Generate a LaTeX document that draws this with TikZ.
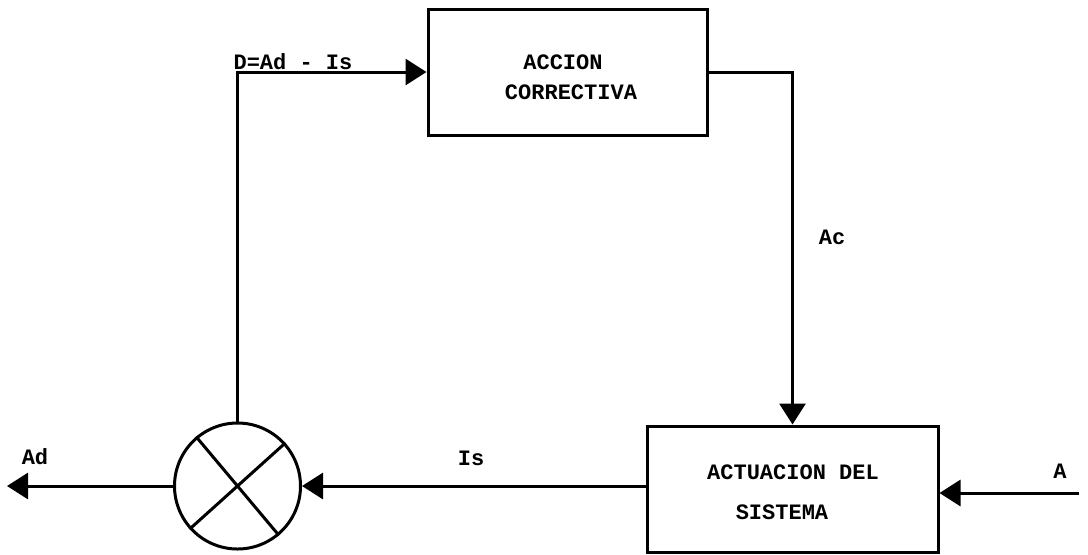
\documentclass[tikz,border=0pt]{standalone}
\usepackage{fontspec}
\setmonofont{Liberation Mono}
\usetikzlibrary{arrows.meta}
\begin{document}
\begin{tikzpicture}[x=0.5pt,y=-0.5pt,line width=1.5pt,
  font=\ttfamily\bfseries\fontsize{11}{13}\selectfont,
  box/.style={draw,line width=1.5pt,inner sep=0pt},
  arr/.style={-{Triangle[length=10.5pt,width=13pt]}},
  lbl/.style={inner sep=0pt}]
\useasboundingbox (0,0) rectangle (1088,554);
\node[box,minimum width=139.5pt,minimum height=63pt] (ac) at (567.5,72) {};
\node[lbl] (ac1) at (563,62) {ACCION};
\node[lbl] (ac2) at (571,92) {CORRECTIVA};
\node[box,minimum width=145.5pt,minimum height=63pt] (as) at (792.5,489) {};
\node[lbl] (as1) at (793,472) {ACTUACION DEL};
\node[lbl] (as2) at (782,512) {SISTEMA};
\node[draw,circle,minimum size=63pt,inner sep=0pt] (cmp) at (237.5,486) {};
\draw (cmp.130) -- (cmp.-50);
\draw (cmp.42) -- (cmp.222);
\draw[arr] (cmp.north) |- (ac.west);
\draw[arr] (ac.east) -| (as.north);
\draw[arr] (as.west |- cmp.east) -- (cmp.east);
\coordinate (ain) at (1079,493);
\draw[arr] (ain) -- (ain -| as.east);
\coordinate (adout) at (7,486);
\draw[arr] (cmp.west) -- (adout);
\node[lbl] (ld) at (293,62) {D=Ad - Is};
\node[lbl] (lac) at (832,237) {Ac};
\node[lbl] (lis) at (471,458) {Is};
\node[lbl] (lad) at (35,457) {Ad};
\node[lbl] (la) at (1060,471) {A};
\end{tikzpicture}
\end{document}
